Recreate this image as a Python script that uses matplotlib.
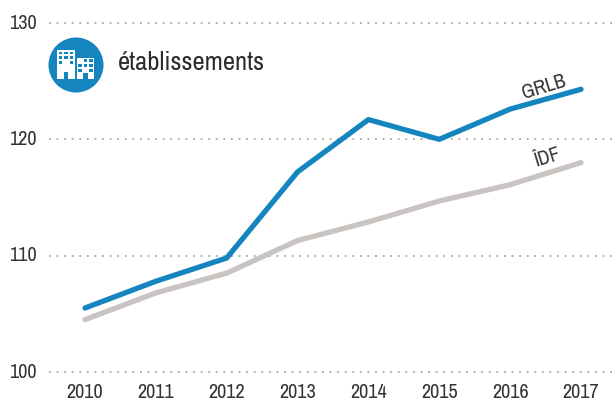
import matplotlib
matplotlib.use("Agg")
import matplotlib.pyplot as plt
from matplotlib.patches import Circle, Rectangle

years = [2010, 2011, 2012, 2013, 2014, 2015, 2016, 2017]
grlb = [105.5, 107.8, 109.8, 117.2, 121.7, 120.0, 122.6, 124.3]
idf = [104.5, 106.8, 108.5, 111.3, 112.9, 114.7, 116.1, 118.0]
y_ticks = [100, 110, 120, 130]

BLUE = "#1585BF"
GREY = "#C9C4C1"
TEXT = "#333333"
W, H = 614, 398
plt.rcParams["font.family"] = ["Archivo Narrow", "Roboto Condensed", "Liberation Sans", "DejaVu Sans"]

fig = plt.figure(figsize=(W / 100, H / 100), dpi=100, facecolor="white")

# Plot area: gridlines run from x=49 to the right edge, 100-130 spans y=372 to y=23
left, right, top, bottom = 49, 614, 23, 372
ax = fig.add_axes([left / W, 1 - bottom / H, (right - left) / W, (bottom - top) / H])
px_per_year = (581 - 85) / 7
ax.set_xlim(2010 - (85 - left) / px_per_year, 2017 + (right - 581) / px_per_year)
ax.set_ylim(100, 130)
ax.axis("off")

for v in y_ticks:
    ax.plot(ax.get_xlim(), [v, v], color="#A8A8A8", lw=1.3, ls=(0, (1, 3.2)),
            clip_on=False, zorder=1)
    ax.text(2010 - (85 - 37) / px_per_year, v, str(v), ha="right", va="center",
            fontsize=14.5, color=TEXT, clip_on=False)

for y in years:
    ax.annotate(str(y), (y, 100), xytext=(0, -25.5), textcoords="offset pixels",
                ha="center", va="baseline", fontsize=14.5, color=TEXT,
                annotation_clip=False)

ax.plot(years, idf, color=GREY, lw=3.8, solid_capstyle="round", solid_joinstyle="round", zorder=2)
ax.plot(years, grlb, color=BLUE, lw=3.8, solid_capstyle="round", solid_joinstyle="round", zorder=3)

ov = fig.add_axes([0, 0, 1, 1], zorder=5)
ov.set_xlim(0, W)
ov.set_ylim(H, 0)
ov.axis("off")

ov.text(544, 87, "GRLB", rotation=17, rotation_mode="anchor", ha="center", va="center",
        fontsize=14.5, color=TEXT)
ov.text(547, 158, "ÎDF", rotation=17, rotation_mode="anchor", ha="center", va="center",
        fontsize=14.5, color=TEXT)

# Building badge in pixel coordinates
ov.add_patch(Circle((76, 65), 27.5, fc=BLUE, ec="none"))


def building(x0, y0, x1, y1, door_x, door_top, win_xs, win_rows):
    ov.add_patch(Rectangle((x0, y0), x1 - x0, y1 - y0, fc="white", ec="none"))
    ov.add_patch(Rectangle((door_x, door_top), 4.5, y1 - door_top, fc=BLUE, ec="none"))
    for wy, cols in win_rows:
        for c in cols:
            ov.add_patch(Rectangle((win_xs[c], wy), 3.6, 2.7, fc=BLUE, ec="none"))


building(57, 50, 75, 79, 63.8, 72, [58.8, 64.2, 69.8],
         [(51.7, (0, 1, 2)), (56.2, (0, 1, 2)), (60.8, (0, 2))])
building(76.5, 58, 94, 79, 83, 73, [78.3, 83.6, 89.0],
         [(59.3, (1, 2)), (64.1, (0, 1, 2)), (69.0, (0, 2))])

ov.text(118, 63, "établissements", ha="left", va="center", fontsize=19.2, color="#2B2B2B")

fig.savefig("out.png", dpi=100, facecolor="white")
